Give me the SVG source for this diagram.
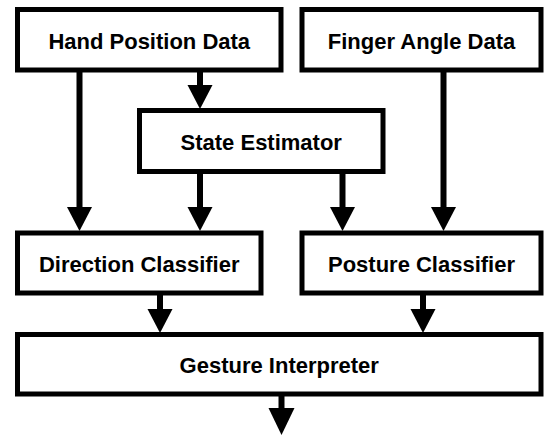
<svg xmlns="http://www.w3.org/2000/svg" width="547" height="435" viewBox="0 0 547 435">
<style>
.box{fill:#fff;stroke:#000;stroke-width:5}
.lbl{font-family:"Liberation Sans",Arial,sans-serif;font-weight:bold;font-size:22px;text-anchor:middle;fill:#000}
.ln{stroke:#000;stroke-width:6;fill:none}
.hd{fill:#000}
</style>
<rect width="547" height="435" fill="#fff"/>
<g id="connectors">
<line class="ln" x1="79.5" y1="72" x2="79.5" y2="208"/>
<polygon class="hd" points="67,207 92,207 79.5,231"/>
<line class="ln" x1="200" y1="72" x2="200" y2="86"/>
<polygon class="hd" points="187.5,85 212.5,85 200,109"/>
<line class="ln" x1="200" y1="173" x2="200" y2="208"/>
<polygon class="hd" points="187.5,207 212.5,207 200,231"/>
<line class="ln" x1="342.5" y1="173" x2="342.5" y2="208"/>
<polygon class="hd" points="330,207 355,207 342.5,231"/>
<line class="ln" x1="443.5" y1="72" x2="443.5" y2="208"/>
<polygon class="hd" points="431,207 456,207 443.5,231"/>
<line class="ln" x1="160" y1="295" x2="160" y2="310"/>
<polygon class="hd" points="147.5,309 172.5,309 160,333"/>
<line class="ln" x1="423" y1="295" x2="423" y2="310"/>
<polygon class="hd" points="410.5,309 435.5,309 423,333"/>
<line class="ln" x1="281.5" y1="396" x2="281.5" y2="409"/>
<polygon class="hd" points="268.5,408 294.5,408 281.5,435"/>
</g>
<g id="hand-position-data">
<rect class="box" x="17.5" y="9.5" width="263.5" height="60.5"/>
<text class="lbl" x="149.25" y="49">Hand Position Data</text>
</g>
<g id="finger-angle-data">
<rect class="box" x="302" y="9.5" width="239" height="60.5"/>
<text class="lbl" x="421.5" y="49">Finger Angle Data</text>
</g>
<g id="state-estimator">
<rect class="box" x="139.5" y="110.5" width="243.5" height="61"/>
<text class="lbl" x="261.25" y="149.5">State Estimator</text>
</g>
<g id="direction-classifier">
<rect class="box" x="17.5" y="233" width="243.5" height="60"/>
<text class="lbl" x="139.25" y="271.5">Direction Classifier</text>
</g>
<g id="posture-classifier">
<rect class="box" x="302" y="233" width="239" height="60"/>
<text class="lbl" x="421.5" y="271.5">Posture Classifier</text>
</g>
<g id="gesture-interpreter">
<rect class="box" x="17.5" y="334.5" width="523.5" height="59.5"/>
<text class="lbl" x="279.25" y="372.5">Gesture Interpreter</text>
</g>
</svg>
